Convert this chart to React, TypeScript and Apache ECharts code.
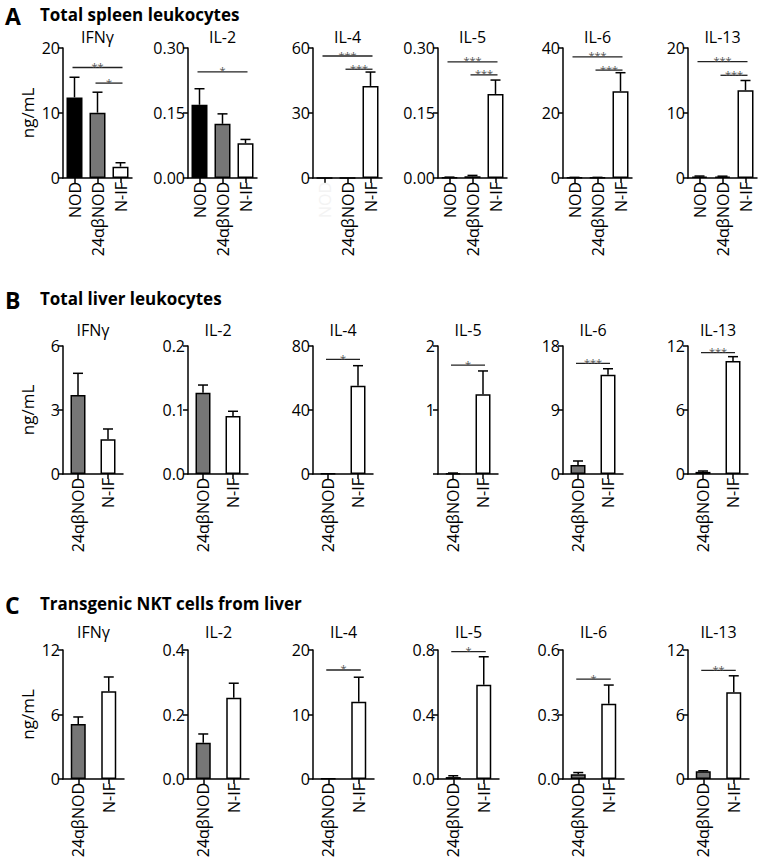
import React, { useEffect, useRef } from 'react';
import * as echarts from 'echarts';

const FONT = 'Open Sans';

const cytokines = ['IFNγ', 'IL-2', 'IL-4', 'IL-5', 'IL-6', 'IL-13'];
const groupsA = ['NOD', '24αβNOD', 'N-IF'];
const groupsBC = ['24αβNOD', 'N-IF'];
const rowLetters = ['A', 'B', 'C'];
const rowTitles = ['Total spleen leukocytes', 'Total liver leukocytes', 'Transgenic NKT cells from liver'];

// Row A: total spleen leukocytes
const meansA = [
  [12.4, 10.05, 1.75],
  [0.169, 0.125, 0.08],
  [0.05, 0.05, 42.5],
  [0.001, 0.004, 0.194],
  [0.15, 0.15, 26.7],
  [0.2, 0.2, 13.5],
];
const semA = [
  [3.1, 3.15, 0.6],
  [0.037, 0.023, 0.009],
  [0, 0, 6.4],
  [0.001, 0.002, 0.032],
  [0.05, 0.05, 5.7],
  [0.1, 0.08, 1.5],
];
const sigA = [
  [[0, 2, 17.0, '**'], [1, 2, 14.6, '*']],
  [[0, 2, 0.245, '*']],
  [[0, 2, 56.3, '***'], [1, 2, 50.2, '***']],
  [[0, 2, 0.268, '***'], [1, 2, 0.238, '***']],
  [[0, 2, 37.3, '***'], [1, 2, 33.2, '***']],
  [[0, 2, 17.9, '***'], [1, 2, 15.8, '***']],
];
const yMaxA = [20, 0.3, 60, 0.3, 40, 20];
const yTicksA = [
  ['0', '10', '20'], ['0.00', '0.15', '0.30'], ['0', '30', '60'],
  ['0.00', '0.15', '0.30'], ['0', '20', '40'], ['0', '10', '20'],
];

// Row B: total liver leukocytes
const meansB = [
  [3.7, 1.63],
  [0.127, 0.0906],
  [0.2, 55.2],
  [0.01, 1.245],
  [1.27, 13.97],
  [0.2, 10.6],
];
const semB = [
  [1.02, 0.48],
  [0.012, 0.0074],
  [0, 12.5],
  [0.005, 0.365],
  [0.56, 0.83],
  [0.08, 0.4],
];
const sigB = [
  [],
  [],
  [[0, 1, 71.7, '*']],
  [[0, 1, 1.7, '*']],
  [[0, 1, 15.56, '***']],
  [[0, 1, 11.37, '***']],
];
const yMaxB = [6, 0.2, 80, 2, 18, 12];
const yTicksB = [
  ['0', '3', '6'], ['0.0', '0.1', '0.2'], ['0', '40', '80'],
  ['', '1', '2'], ['0', '9', '18'], ['0', '6', '12'],
];

// Row C: transgenic NKT cells from liver
const meansC = [
  [5.12, 8.16],
  [0.1126, 0.252],
  [0.05, 11.98],
  [0.012, 0.585],
  [0.022, 0.35],
  [0.72, 8.06],
];
const semC = [
  [0.65, 1.33],
  [0.027, 0.045],
  [0, 3.8],
  [0.008, 0.173],
  [0.008, 0.087],
  [0.05, 1.54],
];
const sigC = [
  [],
  [],
  [[0, 1, 16.9, '*']],
  [[0, 1, 0.79, '*']],
  [[0, 1, 0.465, '*']],
  [[0, 1, 10.1, '**']],
];
const yMaxC = [12, 0.4, 20, 0.8, 0.6, 12];
const yTicksC = [
  ['0', '6', '12'], ['0.0', '0.2', '0.4'], ['0', '10', '20'],
  ['0.0', '0.4', '0.8'], ['0.0', '0.3', '0.6'], ['0', '6', '12'],
];

const groupColor: Record<string, string> = { NOD: '#000000', '24αβNOD': '#767676', 'N-IF': '#ffffff' };

const rows = [
  { groups: groupsA, means: meansA, sem: semA, sig: sigA, yMax: yMaxA, yTicks: yTicksA, top: 48, height: 130, width: 69, barWidth: 16, letterY: 18, subY: 37 },
  { groups: groupsBC, means: meansB, sem: semB, sig: sigB, yMax: yMaxB, yTicks: yTicksB, top: 346, height: 128, width: 60, barWidth: 15, letterY: 302, subY: 330 },
  { groups: groupsBC, means: meansC, sem: semC, sig: sigC, yMax: yMaxC, yTicks: yTicksC, top: 650, height: 129, width: 61, barWidth: 15, letterY: 607, subY: 632 },
];
const colLeft = [63, 188, 313, 438, 563, 688];

function buildOption() {
  const grid: any[] = [];
  const xAxis: any[] = [];
  const yAxis: any[] = [];
  const series: any[] = [];
  const graphic: any[] = [];
  const axisLineStyle = { color: '#000', width: 1.5 };

  rows.forEach((row, r) => {
    graphic.push({
      type: 'text', left: 5, top: row.letterY - 14,
      style: { text: rowLetters[r], font: `bold 23px "${FONT}"`, fill: '#000' },
    });
    graphic.push({
      type: 'text', left: 40, top: row.letterY - 12,
      style: { text: rowTitles[r], font: `bold 17px "${FONT}"`, fill: '#000' },
    });
    graphic.push({
      type: 'text', x: 27, y: row.top + row.height / 2, rotation: Math.PI / 2,
      style: { text: 'ng/mL', font: `17px "${FONT}"`, fill: '#000', align: 'center', verticalAlign: 'middle' },
    });

    cytokines.forEach((name, c) => {
      const idx = r * 6 + c;
      const max = row.yMax[c];
      const interval = max / 2;
      const ticks = row.yTicks[c];
      graphic.push({
        type: 'text', x: colLeft[c] + row.width / 2, y: row.subY,
        style: { text: name, font: `16px "${FONT}"`, lineHeight: 16, fill: '#000', align: 'center', verticalAlign: 'middle' },
      });
      grid.push({
        left: colLeft[c], top: row.top, width: row.width, height: row.height,
        containLabel: false, outerBoundsMode: 'none',
      });
      xAxis.push({
        type: 'category', gridIndex: idx,
        data: row.groups.map((g) =>
          r === 0 && c === 2 && g === 'NOD' ? { value: g, textStyle: { color: '#f3f3f3' } } : g
        ),
        axisLine: { show: true, lineStyle: axisLineStyle },
        axisTick: { show: true, alignWithLabel: true, length: 5, lineStyle: axisLineStyle },
        axisLabel: { show: true, rotate: 90, interval: 0, margin: 4, fontSize: 16, fontFamily: FONT, color: '#000' },
        splitLine: { show: false },
      });
      yAxis.push({
        type: 'value', gridIndex: idx, min: 0, max, interval,
        axisLine: { show: true, lineStyle: axisLineStyle },
        axisTick: { show: true, length: 5, lineStyle: axisLineStyle },
        axisLabel: {
          show: true, margin: 3, fontSize: 16, fontFamily: FONT, color: '#000',
          formatter: (v: number) => ticks[Math.round(v / interval)] ?? '',
        },
        splitLine: { show: false },
      });
      const means = row.means[c];
      const sem = row.sem[c];
      series.push({
        type: 'bar', xAxisIndex: idx, yAxisIndex: idx, barWidth: row.barWidth,
        data: means.map((v, i) => ({
          value: v,
          itemStyle: { color: groupColor[row.groups[i]], borderColor: '#000', borderWidth: 1.5 },
        })),
        silent: true,
      });
      series.push({
        type: 'custom', xAxisIndex: idx, yAxisIndex: idx, silent: true, z: 5,
        encode: { x: 0, y: 1 },
        data: means.map((v, i) => [i, v, sem[i]]),
        renderItem: (params: any, api: any) => {
          const x = api.value(0);
          const m = api.value(1);
          const e = api.value(2);
          if (!e) return { type: 'group', children: [] };
          const p0 = api.coord([x, m]);
          const p1 = api.coord([x, m + e]);
          const st = { stroke: '#000', lineWidth: 1.5 };
          return {
            type: 'group',
            children: [
              { type: 'line', shape: { x1: p0[0], y1: p0[1], x2: p1[0], y2: p1[1] }, style: st },
              { type: 'line', shape: { x1: p1[0] - 5, y1: p1[1], x2: p1[0] + 5, y2: p1[1] }, style: st },
            ],
          };
        },
      });
      const sig = row.sig[c];
      if (sig.length) {
        series.push({
          type: 'custom', xAxisIndex: idx, yAxisIndex: idx, silent: true, z: 6,
          encode: { x: [0, 1], y: 2 },
          data: sig.map((s) => [s[0], s[1], s[2]]),
          renderItem: (params: any, api: any) => {
            const s = sig[params.dataIndex];
            const a = api.coord([api.value(0), api.value(2)]);
            const b = api.coord([api.value(1), api.value(2)]);
            return {
              type: 'group',
              children: [
                { type: 'line', shape: { x1: a[0] - 2, y1: a[1], x2: b[0] + 2, y2: b[1] }, style: { stroke: '#222', lineWidth: 1.3 } },
                {
                  type: 'text', x: (a[0] + b[0]) / 2, y: a[1] + 4,
                  style: { text: s[3], font: `11px "${FONT}"`, lineHeight: 10, fill: '#555', align: 'center', verticalAlign: 'bottom' },
                },
              ],
            };
          },
        });
      }
    });
  });

  return { animation: false, backgroundColor: '#fff', grid, xAxis, yAxis, series, graphic };
}

export default function App() {
  const ref = useRef<HTMLDivElement>(null);
  useEffect(() => {
    if (!ref.current) return;
    const chart = echarts.init(ref.current, undefined, { renderer: 'svg' });
    chart.setOption(buildOption() as any);
    return () => chart.dispose();
  }, []);
  return <div ref={ref} style={{ position: 'absolute', left: 0, top: 0, width: 760, height: 865 }} />;
}
